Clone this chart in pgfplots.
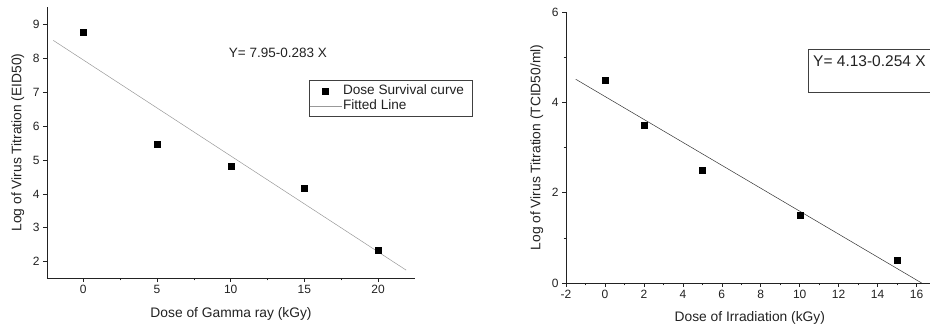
\documentclass[border=0pt]{standalone}
\usepackage{pgfplots}
\pgfplotsset{compat=1.18}
\usepackage{fontspec}
\setmainfont{Liberation Sans}
\definecolor{axgray}{HTML}{222222}
\pgfplotsset{
  mystyle/.style={
    scale only axis,
    axis x line*=bottom,
    axis y line*=left,
    tick align=outside,
    axis line style={axgray, line width=0.7pt},
    major tick style={axgray, line width=0.6pt},
    minor tick style={axgray, line width=0.6pt},
    major tick length=4pt,
    minor tick length=2.5pt,
    /pgf/number format/assume math mode=true,
    ticklabel style={font=\fontsize{12}{14}\selectfont, text=axgray},
    label style={font=\fontsize{13.8}{15}\selectfont, text=axgray},
    xlabel style={at={(axis description cs:0.5,-0.133)}, anchor=center},
    clip=false,
  },
  marklegend/.style={legend image code/.code={\draw[##1] plot coordinates {(16pt,0pt)};}},
  linelegend/.style={legend image code/.code={\draw[##1] (0pt,0pt) -- (32pt,0pt);}},
}
\begin{document}
\begin{tikzpicture}[x=1pt,y=1pt]
\path[use as bounding box, clip] (0,0) rectangle (930,326);
% Left chart
\begin{axis}[mystyle,
  at={(47pt,48pt)}, anchor=south west,
  width=368pt, height=271pt,
  xmin=-2.46, xmax=22.5, ymin=1.52, ymax=9.51,
  xtick={0,5,10,15,20}, minor x tick num=1,
  ytick={2,3,4,5,6,7,8,9},
  xlabel={Dose of Gamma ray (kGy)},
  ylabel={Log of Virus Titration (EID50)},
  ylabel style={at={(axis description cs:-0.079,0.5)}, anchor=center},
  legend style={at={(0.712,0.73)}, anchor=north west, draw=black!75,
    line width=0.6pt,
    inner xsep=0pt, inner ysep=3pt,
    font=\fontsize{13.6}{15}\selectfont,
    nodes={text height=9.7pt, text depth=3pt, inner sep=1.2pt, text=axgray}},
  legend cell align=left,
]
\addplot[only marks, mark=square*, mark size=3pt, black, marklegend]
  coordinates {(0,8.77) (5,5.47) (10,4.83) (15,4.17) (20,2.33)};
\addlegendentry{Dose Survival curve\kern7pt}
\addplot[black!40, line width=0.5pt, linelegend]
  coordinates {(-2.03,8.524) (21.9,1.752)};
\addlegendentry{Fitted Line}
\node[font=\fontsize{13.5}{15}\selectfont, text=axgray] at (axis cs:13.2,8.15) {Y= 7.95-0.283 X};
\end{axis}
% Right chart
\begin{axis}[mystyle,
  at={(566pt,43pt)}, anchor=south west,
  width=364pt, height=271pt,
  xmin=-2, xmax=16.69, ymin=0, ymax=6,
  xtick={-2,0,2,4,6,8,10,12,14,16}, minor x tick num=1,
  ytick={0,2,4,6}, minor y tick num=1,
  xlabel={Dose of Irradiation (kGy)},
  xlabel style={at={(axis description cs:0.505,-0.129)}, anchor=center},
  ylabel={Log of Virus Titration (TCID50/ml)},
  ylabel style={at={(axis description cs:-0.080,0.5)}, anchor=center},
]
\addplot[only marks, mark=square*, mark size=3pt, black]
  coordinates {(0,4.5) (2,3.5) (5,2.5) (10,1.5) (15,0.5)};
\addplot[black!80, line width=0.5pt]
  coordinates {(-1.5,4.511) (16.26,0.0)};
\end{axis}
\draw[black!75, line width=0.6pt] (808,234) rectangle (945,277);
\node[anchor=west, inner sep=0pt, font=\fontsize{15.5}{17}\selectfont, text=axgray] at (813,265) {Y= 4.13-0.254 X};
\end{tikzpicture}
\end{document}
